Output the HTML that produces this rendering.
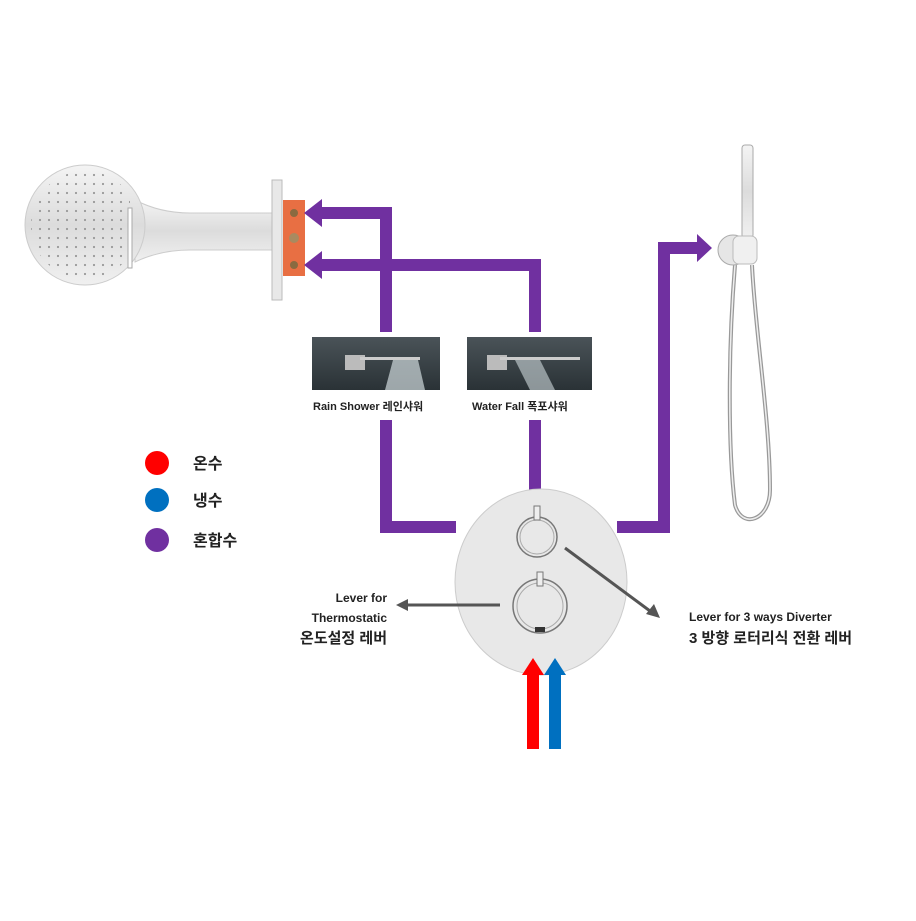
<!DOCTYPE html>
<html><head><meta charset="utf-8"><style>
body{margin:0;background:#fff;}
svg text{font-family:"Liberation Sans","Noto Sans CJK KR",sans-serif;font-weight:bold;fill:#222;}
</style></head><body>
<svg width="916" height="916" viewBox="0 0 916 916" xmlns="http://www.w3.org/2000/svg">
<defs>
<linearGradient id="chrome" x1="0" y1="0" x2="0" y2="1"><stop offset="0" stop-color="#f4f4f4"/><stop offset="0.5" stop-color="#dcdcdc"/><stop offset="1" stop-color="#f0f0f0"/></linearGradient>
<linearGradient id="photo" x1="0" y1="0" x2="0" y2="1"><stop offset="0" stop-color="#4a5358"/><stop offset="1" stop-color="#2a3236"/></linearGradient>
<pattern id="dots" width="9" height="9" patternUnits="userSpaceOnUse"><circle cx="4" cy="4" r="1.1" fill="#999"/></pattern>
<clipPath id="hc"><circle cx="85" cy="225" r="54"/></clipPath>
</defs>
<!-- rain shower head -->
<path d="M135 200 Q160 213 190 213 L274 213 L274 250 L190 250 Q160 250 135 262Z" fill="url(#chrome)" stroke="#ccc"/>
<circle cx="85" cy="225" r="60" fill="url(#chrome)" stroke="#ccc"/>
<rect x="20" y="165" width="110" height="120" fill="url(#dots)" clip-path="url(#hc)"/>
<rect x="128" y="208" width="4" height="60" fill="#fff" stroke="#aaa"/>
<rect x="272" y="180" width="10" height="120" fill="#e8e8e8" stroke="#bbb"/>
<rect x="283" y="200" width="22" height="76" fill="#e86f43"/>
<circle cx="294" cy="213" r="4" fill="#8a6a40"/><circle cx="294" cy="238" r="5" fill="#a88a60"/><circle cx="294" cy="265" r="4" fill="#8a6a40"/>
<!-- purple lines -->
<g fill="#7030a0">
<rect x="313" y="207" width="79" height="12"/><rect x="380" y="207" width="12" height="125"/>
<polygon points="304,213 322,199 322,227"/>
<rect x="313" y="259" width="228" height="12"/><rect x="529" y="259" width="12" height="73"/>
<polygon points="304,265 322,251 322,279"/>
<rect x="380" y="420" width="12" height="113"/><rect x="380" y="521" width="76" height="12"/>
<rect x="529" y="420" width="12" height="70"/>
<rect x="617" y="521" width="53" height="12"/><rect x="658" y="242" width="12" height="291"/>
<rect x="658" y="242" width="40" height="12"/><polygon points="712,248 697,234 697,262"/>
</g>
<!-- photos -->
<rect x="312" y="337" width="128" height="53" fill="url(#photo)"/>
<rect x="345" y="355" width="20" height="15" fill="#bbb"/><rect x="360" y="357" width="60" height="3" fill="#ccc"/>
<polygon points="393,360 418,360 425,390 385,390" fill="#cfd8dc" opacity="0.7"/>
<rect x="467" y="337" width="125" height="53" fill="url(#photo)"/>
<rect x="487" y="355" width="20" height="15" fill="#bbb"/><rect x="500" y="357" width="80" height="3" fill="#ccc"/>
<polygon points="515,360 540,360 555,390 530,390" fill="#cfd8dc" opacity="0.6"/>
<text x="313" y="410" font-size="11">Rain Shower 레인샤워</text>
<text x="472" y="410" font-size="11">Water Fall  폭포샤워</text>
<!-- legend -->
<circle cx="157" cy="463" r="12" fill="#ff0000"/><circle cx="157" cy="500" r="12" fill="#0070c0"/><circle cx="157" cy="540" r="12" fill="#7030a0"/>
<text x="193" y="469" font-size="16">온수</text><text x="193" y="506" font-size="16">냉수</text><text x="193" y="546" font-size="16">혼합수</text>
<!-- valve -->
<ellipse cx="541" cy="582" rx="86" ry="93" fill="#e8e8e8" stroke="#ccc"/>
<circle cx="537" cy="537" r="20" fill="none" stroke="#777" stroke-width="1.5"/><circle cx="537" cy="537" r="17" fill="none" stroke="#aaa"/>
<rect x="534" y="506" width="6" height="14" fill="#eee" stroke="#777"/>
<circle cx="540" cy="606" r="27" fill="none" stroke="#777" stroke-width="1.5"/><circle cx="540" cy="606" r="23" fill="none" stroke="#aaa"/>
<rect x="537" y="572" width="6" height="14" fill="#eee" stroke="#777"/>
<rect x="535" y="627" width="10" height="5" fill="#333"/>
<!-- pointer arrows -->
<g stroke="#555" stroke-width="3"><line x1="500" y1="605" x2="405" y2="605"/><line x1="565" y1="548" x2="650" y2="611"/></g>
<polygon points="396,605 408,599 408,611" fill="#555"/>
<polygon points="660,618 646,614 654,604" fill="#555"/>
<text x="387" y="602" font-size="12" text-anchor="end">Lever for</text>
<text x="387" y="622" font-size="12" text-anchor="end">Thermostatic</text>
<text x="387" y="643" font-size="15" text-anchor="end">온도설정 레버</text>
<text x="689" y="621" font-size="12">Lever for 3 ways Diverter</text>
<text x="689" y="643" font-size="15">3 방향 로터리식 전환 레버</text>
<!-- inlet arrows -->
<rect x="527" y="673" width="12" height="76" fill="#ff0000"/><polygon points="522,675 533,658 544,675" fill="#ff0000"/>
<rect x="549" y="673" width="12" height="76" fill="#0070c0"/><polygon points="544,675 555,658 566,675" fill="#0070c0"/>
<!-- hand shower -->
<path d="M735 265 C728 350 728 450 735 505 C742 530 770 520 770 490 C770 420 755 330 752 265" fill="none" stroke="#999" stroke-width="4"/>
<path d="M735 265 C728 350 728 450 735 505 C742 530 770 520 770 490 C770 420 755 330 752 265" fill="none" stroke="#eee" stroke-width="1.5"/>
<rect x="742" y="145" width="11" height="93" rx="3" fill="url(#chrome)" stroke="#aaa"/>
<circle cx="733" cy="250" r="15" fill="#e6e6e6" stroke="#aaa"/>
<rect x="733" y="236" width="24" height="28" rx="6" fill="#f0f0f0" stroke="#bbb"/>
</svg>
</body></html>
